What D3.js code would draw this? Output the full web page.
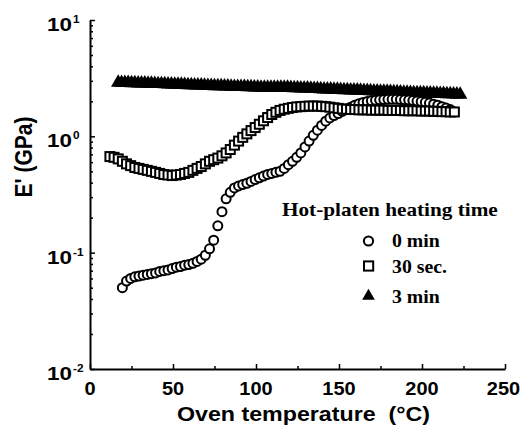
<!DOCTYPE html>
<html>
<head>
<meta charset="utf-8">
<script src="https://cdn.jsdelivr.net/npm/d3@7"></script>
<style>
  body { margin: 0; background: #fff; }
  svg { display: block; }
</style>
</head>
<body>
<svg id="chart" width="522" height="429"></svg>
<script>
// tick labels
const xTicks = [0, 50, 100, 150, 200, 250];
const xMinorTicks = [25, 75, 125, 175, 225];
const yTicks = [10, 1, 0.1, 0.01];
const yTickExp = ["1", "0", "-1", "-2"];

// legend
const legendTitle = "Hot-platen heating time";
const seriesNames = ["0 min", "30 sec.", "3 min"];

// 0 min
const circleTemps = [19.5, 22, 24.5, 27, 29.5, 32, 34.5, 37, 39.5, 42, 44.5, 47, 49.5, 52, 54.5, 57, 59.5, 62, 64.5, 67,
  69.5, 72, 74.5, 77, 79.5, 82, 84.5, 87, 89.5, 92, 94.5, 97, 99.5, 102, 104.5, 107, 109.5, 112, 114.5, 117,
  119.5, 122, 124.5, 127, 129.5, 132, 134.5, 137, 139.5, 142, 144.5, 147, 149.5, 152, 154.5, 157, 159.5, 162, 164.5, 167,
  169.5, 172, 174.5, 177, 179.5, 182, 184.5, 187, 189.5, 192, 194.5, 197, 199.5, 202, 204.5, 207, 209.5, 212, 214.5, 217];
const circleValues = [0.050, 0.057, 0.060, 0.062, 0.063, 0.064, 0.065, 0.066, 0.067, 0.069,
  0.070, 0.071, 0.073, 0.075, 0.076, 0.078, 0.079, 0.081, 0.084, 0.088,
  0.095, 0.108, 0.128, 0.170, 0.225, 0.29, 0.33, 0.36, 0.375, 0.385,
  0.395, 0.41, 0.425, 0.44, 0.455, 0.47, 0.48, 0.49, 0.50, 0.53,
  0.57, 0.61, 0.66, 0.72, 0.81, 0.91, 1.02, 1.13, 1.24, 1.35,
  1.44, 1.51, 1.57, 1.64, 1.71, 1.78, 1.85, 1.91, 1.95, 1.99,
  2.02, 2.04, 2.06, 2.07, 2.08, 2.08, 2.08, 2.07, 2.06, 2.05,
  2.03, 2.01, 1.99, 1.96, 1.93, 1.89, 1.85, 1.80, 1.75, 1.70];

// 30 sec.
const squareTemps = [12, 14.5, 17, 19.5, 22, 24.5, 27, 29.5, 32, 34.5, 37, 39.5, 42, 44.5, 47, 49.5, 52, 54.5, 57, 59.5,
  62, 64.5, 67, 69.5, 72, 74.5, 77, 79.5, 82, 84.5, 87, 89.5, 92, 94.5, 97, 99.5, 102, 104.5, 107, 109.5,
  112, 114.5, 117, 119.5, 122, 124.5, 127, 129.5, 132, 134.5, 137, 139.5, 142, 144.5, 147, 149.5, 152, 154.5, 157, 159.5,
  162, 164.5, 167, 169.5, 172, 174.5, 177, 179.5, 182, 184.5, 187, 189.5, 192, 194.5, 197, 199.5, 202, 204.5, 207, 209.5,
  212, 214.5, 217, 219.5];
const squareValues = [0.67, 0.66, 0.64, 0.61, 0.58, 0.56, 0.54, 0.53, 0.52, 0.51,
  0.50, 0.49, 0.48, 0.47, 0.465, 0.46, 0.465, 0.47, 0.48, 0.49,
  0.51, 0.53, 0.55, 0.58, 0.61, 0.63, 0.65, 0.68, 0.72, 0.77,
  0.84, 0.91, 0.98, 1.05, 1.12, 1.19, 1.27, 1.36, 1.45, 1.54,
  1.61, 1.67, 1.71, 1.74, 1.77, 1.79, 1.80, 1.81, 1.82, 1.82,
  1.82, 1.81, 1.80, 1.78, 1.76, 1.74, 1.72, 1.71, 1.70, 1.70,
  1.69, 1.69, 1.69, 1.68, 1.68, 1.68, 1.68, 1.67, 1.67, 1.67,
  1.67, 1.66, 1.66, 1.66, 1.66, 1.65, 1.65, 1.65, 1.64, 1.64,
  1.63, 1.63, 1.62, 1.62];

// 3 min
const triangleTemps = [17, 19, 21, 23, 25, 27, 29, 31, 33, 35, 37, 39, 41, 43, 45, 47, 49, 51, 53, 55,
  57, 59, 61, 63, 65, 67, 69, 71, 73, 75, 77, 79, 81, 83, 85, 87, 89, 91, 93, 95,
  97, 99, 101, 103, 105, 107, 109, 111, 113, 115, 117, 119, 121, 123, 125, 127, 129, 131, 133, 135,
  137, 139, 141, 143, 145, 147, 149, 151, 153, 155, 157, 159, 161, 163, 165, 167, 169, 171, 173, 175,
  177, 179, 181, 183, 185, 187, 189, 191, 193, 195, 197, 199, 201, 203, 205, 207, 209, 211, 213, 215,
  217, 219, 221, 223];
const triangleValues = [2.90, 2.89, 2.89, 2.88, 2.87, 2.87, 2.86, 2.86, 2.85, 2.84,
  2.84, 2.83, 2.82, 2.82, 2.81, 2.80, 2.80, 2.79, 2.78, 2.78,
  2.77, 2.76, 2.76, 2.75, 2.74, 2.74, 2.73, 2.72, 2.72, 2.71,
  2.70, 2.70, 2.69, 2.69, 2.68, 2.67, 2.67, 2.66, 2.66, 2.65,
  2.65, 2.64, 2.64, 2.63, 2.63, 2.63, 2.62, 2.62, 2.62, 2.62,
  2.62, 2.62, 2.61, 2.60, 2.60, 2.59, 2.58, 2.58, 2.57, 2.56,
  2.56, 2.55, 2.54, 2.54, 2.53, 2.52, 2.52, 2.51, 2.50, 2.50,
  2.49, 2.48, 2.48, 2.47, 2.46, 2.46, 2.45, 2.44, 2.44, 2.43,
  2.42, 2.42, 2.41, 2.40, 2.40, 2.39, 2.38, 2.38, 2.37, 2.36,
  2.36, 2.35, 2.35, 2.34, 2.34, 2.33, 2.33, 2.32, 2.32, 2.31,
  2.31, 2.30, 2.30, 2.29];

const sans = "'Liberation Sans', Arial, Helvetica, sans-serif";
const serif = "'Liberation Serif', 'Times New Roman', serif";
const stretch = 1.18; // the print is a bit wide

const svg = d3.select('#chart');
svg.append('rect').attr('width', 522).attr('height', 429).attr('fill', '#fff');

const x = d3.scaleLinear().domain([0, 250]).range([90, 505]);
const y = d3.scaleLog().domain([0.01, 10]).range([369, 20]);

// axes, ticks inside
const yMinor = y.ticks().filter(v => !yTicks.includes(v));

svg.append('g')
	.attr('transform', 'translate(0,369)')
	.call(d3.axisBottom(x).tickValues(xMinorTicks).tickSize(-3).tickSizeOuter(0).tickFormat(''))
	.call(g => g.select('.domain').remove());
svg.append('g')
	.attr('transform', 'translate(0,369)')
	.call(d3.axisBottom(x).tickValues(xTicks).tickSize(-5).tickSizeOuter(0).tickFormat(''))
	.call(g => g.select('.domain').attr('stroke-width', 2));

svg.append('g')
	.attr('transform', 'translate(90,0)')
	.call(d3.axisLeft(y).tickValues(yMinor).tickSize(-3).tickSizeOuter(0).tickFormat(''))
	.call(g => g.select('.domain').remove());
svg.append('g')
	.attr('transform', 'translate(90,0)')
	.call(d3.axisLeft(y).tickValues(yTicks).tickSize(-5).tickSizeOuter(0).tickFormat(''))
	.call(g => g.select('.domain').attr('stroke-width', 2));

svg.selectAll('.tick line').attr('stroke-width', 1.5);

// tick labels
svg.append('g').selectAll('text').data(xTicks).enter()
	.append('text')
	.attr('transform', d => 'translate(' + (d === 250 ? x(d) - 1.5 : x(d)) + ',395) scale(1.08,1)')
	.attr('text-anchor', 'middle')
	.attr('font-family', sans).attr('font-weight', 'bold').attr('font-size', 18.5)
	.text(d => d);

let yLab = svg.append('g').selectAll('text').data(yTicks).enter()
	.append('text')
	.attr('transform', d => 'translate(47,' + (y(d) + 11) + ') scale(' + stretch + ',1)')
	.attr('font-family', sans).attr('font-weight', 'bold').attr('font-size', 19);
yLab.append('tspan').text('10');
yLab.append('tspan').attr('font-size', 10).attr('dy', -8).attr('dx', 1)
	.text((d, i) => yTickExp[i]);

// axis titles
svg.append('text')
	.attr('x', 303.5).attr('y', 421)
	.attr('text-anchor', 'middle')
	.attr('font-family', sans).attr('font-weight', 'bold').attr('font-size', 19.5)
	.attr('textLength', 253).attr('lengthAdjust', 'spacingAndGlyphs')
	.style('white-space', 'pre')
	.text('Oven temperature  (°C)');

svg.append('text')
	.attr('transform', 'translate(32,157) rotate(-90) scale(1,' + stretch + ')')
	.attr('text-anchor', 'middle')
	.attr('font-family', sans).attr('font-weight', 'bold').attr('font-size', 21)
	.text("E' (GPa)");

// data
const tri = d3.symbol().type(d3.symbolTriangle).size(90);
const triSmall = d3.symbol().type(d3.symbolTriangle).size(70);

const triData = triangleTemps.map((t, i) => ({ t: t, v: triangleValues[i] }));
const cirData = circleTemps.map((t, i) => ({ t: t, v: circleValues[i] }));
const sqData = squareTemps.map((t, i) => ({ t: t, v: squareValues[i] }));

svg.append('g').selectAll('path').data(triData).enter()
	.append('path')
	.attr('d', tri)
	.attr('transform', d => 'translate(' + x(d.t) + ',' + y(d.v) + ')')
	.attr('fill', '#000');

svg.append('g').selectAll('circle').data(cirData).enter()
	.append('circle')
	.attr('cx', d => x(d.t)).attr('cy', d => y(d.v)).attr('r', 4.5)
	.attr('fill', '#fff').attr('stroke', '#000').attr('stroke-width', 2);

const sq = 9;
svg.append('g').selectAll('rect').data(sqData).enter()
	.append('rect')
	.attr('x', d => x(d.t) - sq / 2).attr('y', d => y(d.v) - sq / 2)
	.attr('width', sq).attr('height', sq)
	.attr('fill', '#fff').attr('stroke', '#000').attr('stroke-width', 2);

// legend
const lg = svg.append('g');
lg.append('text')
	.attr('transform', 'translate(282,216) scale(' + stretch + ',1)')
	.attr('font-family', serif).attr('font-weight', 'bold').attr('font-size', 18)
	.text(legendTitle);

const legendY = [241, 266, 296];
const legendBase = [247, 272.5, 302.5];
lg.append('circle').attr('cx', 368.5).attr('cy', legendY[0]).attr('r', 4.6)
	.attr('fill', '#fff').attr('stroke', '#000').attr('stroke-width', 2);
lg.append('rect').attr('x', 364).attr('y', legendY[1] - 4.6).attr('width', 9.2).attr('height', 9.2)
	.attr('fill', '#fff').attr('stroke', '#000').attr('stroke-width', 2);
lg.append('path').attr('d', triSmall).attr('transform', 'translate(368.5,' + legendY[2] + ')').attr('fill', '#000');

lg.selectAll('text.item').data(seriesNames).enter()
	.append('text').attr('class', 'item')
	.attr('transform', (d, i) => 'translate(392,' + legendBase[i] + ') scale(1.1,1)')
	.attr('font-family', serif).attr('font-weight', 'bold').attr('font-size', 18)
	.text(d => d);
</script>
</body>
</html>
